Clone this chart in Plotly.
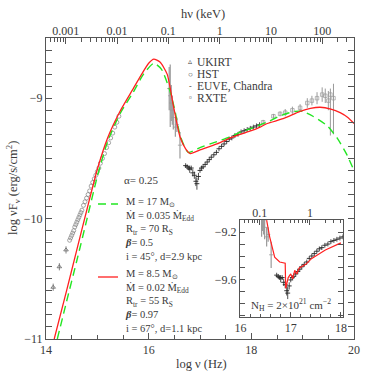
import plotly.graph_objects as go
import math

# ---------------- data ----------------
# model curves (log nu [Hz], log nuFnu)
red_x = [14.16, 14.40, 14.60, 14.80, 15.00, 15.20, 15.44, 15.70, 15.85, 16.00, 16.10, 16.22, 16.36,
         16.48, 16.61, 16.72, 16.81, 17.00, 17.33, 17.59, 17.78, 18.00, 18.17, 18.31, 18.62, 18.95,
         19.15, 19.34, 19.55, 19.73, 19.88, 20.00]
red_y = [-11.00, -10.60, -10.26, -9.92, -9.59, -9.33, -9.11, -8.92, -8.81, -8.71, -8.675, -8.70, -8.80,
         -9.06, -9.32, -9.42, -9.46, -9.43, -9.38, -9.33, -9.30, -9.27, -9.24, -9.21, -9.17, -9.11,
         -9.085, -9.075, -9.09, -9.12, -9.16, -9.21]

green_x = [14.22, 14.40, 14.60, 14.80, 15.00, 15.20, 15.44, 15.70, 15.90, 16.10, 16.25, 16.40, 16.50,
           16.62, 16.77, 17.00, 17.33, 17.59, 17.80, 18.00, 18.30, 18.60, 18.85, 19.00, 19.20, 19.48,
           19.67, 19.85, 20.00]
green_y = [-11.00, -10.69, -10.35, -10.00, -9.65, -9.36, -9.13, -8.95, -8.80, -8.71, -8.76, -8.92, -9.08,
           -9.32, -9.45, -9.41, -9.36, -9.32, -9.28, -9.25, -9.20, -9.14, -9.11, -9.11, -9.15, -9.23,
           -9.33, -9.46, -9.60]

# absorbed model in the inset
inset_red_x = [16.52, 16.58, 16.68, 16.78, 16.89, 16.90, 16.95, 17.00, 17.04, 17.08, 17.12, 17.17,
               17.30, 17.42, 17.69, 18.00]
inset_red_y = [-9.10, -9.24, -9.41, -9.45, -9.46, -9.67, -9.58, -9.55, -9.59, -9.52, -9.55, -9.50,
               -9.47, -9.42, -9.35, -9.29]

# UKIRT (triangles)
ukirt_x = [14.14, 14.26, 14.39]
ukirt_y = [-10.57, -10.40, -10.26]
ukirt_err = [0.03, 0.03, 0.03]

# HST (circles)
hst_x = [14.46, 14.48, 14.50, 14.52, 14.54, 14.56, 14.58, 14.60, 14.62, 14.64, 14.66, 14.68, 14.70,
         14.73, 14.76, 14.79, 14.82, 14.85, 14.88, 14.91, 14.94, 14.97, 15.00, 15.03, 15.06, 15.10,
         15.14, 15.18, 15.22, 15.26, 15.30, 15.34, 15.38, 15.42]
hst_y = [-10.18, -10.16, -10.14, -10.12, -10.10, -10.07, -10.05, -10.03, -10.01, -9.99, -9.97, -9.95,
         -9.93, -9.89, -9.86, -9.83, -9.80, -9.77, -9.73, -9.70, -9.67, -9.64, -9.61, -9.58, -9.54,
         -9.50, -9.46, -9.41, -9.37, -9.33, -9.29, -9.24, -9.20, -9.15]

# EUVE (gray, large error bars)
euve_x = [16.40, 16.42, 16.44, 16.46, 16.48, 16.52, 16.55, 16.61]
euve_y = [-8.92, -8.98, -9.04, -9.10, -9.16, -9.24, -9.22, -9.39]
euve_err = [0.18, 0.26, 0.15, 0.12, 0.10, 0.08, 0.06, 0.11]

# Chandra (black crosses)
chan_x = [16.72, 16.75, 16.78, 16.80, 16.83, 16.86, 16.89, 16.92, 16.94, 16.97, 17.00, 17.03, 17.06,
          17.10, 17.14, 17.18, 17.22, 17.27, 17.32, 17.37, 17.42, 17.47, 17.52, 17.57, 17.62, 17.68,
          17.74, 17.80, 17.86, 17.92, 17.98, 18.04, 18.10, 18.16]
chan_y = [-9.56, -9.57, -9.58, -9.59, -9.58, -9.62, -9.64, -9.69, -9.71, -9.65, -9.60, -9.58, -9.57,
          -9.55, -9.53, -9.51, -9.49, -9.47, -9.45, -9.42, -9.40, -9.38, -9.36, -9.34, -9.33, -9.31,
          -9.30, -9.28, -9.27, -9.26, -9.25, -9.24, -9.23, -9.22]
chan_err = [0.02, 0.02, 0.02, 0.03, 0.02, 0.03, 0.03, 0.04, 0.05, 0.03, 0.02, 0.02, 0.02,
            0.02, 0.02, 0.02, 0.02, 0.02, 0.02, 0.02, 0.02, 0.02, 0.02, 0.02, 0.02, 0.02,
            0.02, 0.02, 0.02, 0.02, 0.02, 0.02, 0.02, 0.02]

# RXTE (squares)
rxte_x = [18.23, 18.43, 18.56, 18.66, 18.80, 18.95, 19.09, 19.18, 19.28, 19.38, 19.44, 19.50, 19.54, 19.60]
rxte_y = [-9.20, -9.15, -9.13, -9.12, -9.10, -9.08, -9.04, -9.02, -9.00, -8.97, -8.98, -9.02, -8.97, -9.00]
rxte_err_up = [0.02, 0.02, 0.02, 0.03, 0.03, 0.03, 0.04, 0.04, 0.05, 0.06, 0.06, 0.08, 0.05, 0.12]
rxte_err_dn = [0.02, 0.02, 0.02, 0.03, 0.03, 0.03, 0.04, 0.04, 0.05, 0.06, 0.06, 0.08, 0.34, 0.30]

# axis ticks
x_ticks = [14, 16, 18, 20]
y_ticks = [-11, -10, -9]
y_ticktext = ["\u221211", "\u221210", "\u22129"]
kev_ticks = [0.001, 0.01, 0.1, 1, 10, 100]
kev_text = ["0.001", "0.01", "0.1", "1", "10", "100"]
inset_x_ticks = [16, 17, 18]
inset_y_ticks = [-9.6, -9.2]
inset_y_text = ["\u22129.6", "\u22129.2"]
inset_kev_ticks = [0.1, 1]

LOG_HZ_PER_KEV = math.log10(2.418e17)

def to_kev(xs):
    return [10 ** (v - LOG_HZ_PER_KEV) for v in xs]

FONT = "Liberation Serif"
TXT = "#3a3a3a"
AX = "#555555"
GRAY = "#9a9a9a"
RED = "#ff2020"
GREEN = "#22e622"

fig = go.Figure()

def add_data(xa, ya, inset=False):
    if not inset:
        fig.add_trace(go.Scatter(x=ukirt_x, y=ukirt_y, mode="markers", xaxis=xa, yaxis=ya,
                                 marker=dict(symbol="triangle-up-open", size=4, color="#666",
                                             line=dict(width=0.8)),
                                 error_y=dict(type="data", array=ukirt_err, color="#666", thickness=0.8, width=0)))
        fig.add_trace(go.Scatter(x=hst_x, y=hst_y, mode="markers", xaxis=xa, yaxis=ya,
                                 marker=dict(symbol="circle-open", size=4, color="#808080",
                                             line=dict(width=0.7))))
    fig.add_trace(go.Scatter(x=euve_x, y=euve_y, mode="markers", xaxis=xa, yaxis=ya,
                             marker=dict(symbol="line-ew-open", size=3, color=GRAY, line=dict(width=0.8)),
                             error_y=dict(type="data", array=euve_err, color=GRAY, thickness=1.2, width=0)))
    fig.add_trace(go.Scatter(x=chan_x, y=chan_y, mode="markers", xaxis=xa, yaxis=ya,
                             marker=dict(symbol="line-ew-open", size=3.5, color="#222", line=dict(width=0.9)),
                             error_y=dict(type="data", array=chan_err, color="#222", thickness=0.8, width=0)))
    if not inset:
        fig.add_trace(go.Scatter(x=rxte_x, y=rxte_y, mode="markers", xaxis=xa, yaxis=ya,
                                 marker=dict(symbol="square-open", size=3.5, color=GRAY, line=dict(width=0.7)),
                                 error_y=dict(type="data", array=rxte_err_up, arrayminus=rxte_err_dn,
                                              color=GRAY, thickness=1.0, width=0)))

add_data("x", "y")
fig.add_trace(go.Scatter(x=green_x, y=green_y, mode="lines", xaxis="x", yaxis="y",
                         line=dict(color=GREEN, width=1.4, dash="8px,5px", shape="spline", smoothing=0.6)))
# red model drawn against the keV (top) axis, same positions
fig.add_trace(go.Scatter(x=to_kev(red_x), y=red_y, mode="lines", xaxis="x2", yaxis="y",
                         line=dict(color=RED, width=1.3, shape="spline", smoothing=0.6)))

add_data("x3", "y3", inset=True)
fig.add_trace(go.Scatter(x=to_kev(inset_red_x), y=inset_red_y, mode="lines", xaxis="x4", yaxis="y3",
                         line=dict(color=RED, width=1.2)))

tickfont = dict(family=FONT, size=12, color=TXT)
common = dict(showgrid=False, zeroline=False, showline=True, linecolor=AX, linewidth=1,
              ticks="inside", tickcolor=AX, tickfont=tickfont)

kev_minor = []
for d in [0.0001, 0.001, 0.01, 0.1, 1, 10, 100]:
    for m in range(2, 10):
        kev_minor.append(d * m)

fig.update_layout(
    width=374, height=374,
    margin=dict(l=46, r=20, t=38, b=35),
    paper_bgcolor="white", plot_bgcolor="white",
    showlegend=False,
    xaxis=dict(range=[14, 20], tickvals=x_ticks, ticklen=6, mirror=True,
               minor=dict(dtick=0.5, ticklen=4, tickcolor=AX, ticks="inside"), **common),
    yaxis=dict(range=[-11, -8.5], tickvals=y_ticks, ticktext=y_ticktext, ticklen=6, mirror="allticks",
               minor=dict(dtick=0.1, ticklen=3.5, tickcolor=AX, ticks="inside"), **common),
    xaxis2=dict(overlaying="x", side="top", type="log", anchor="y",
                range=[14 - LOG_HZ_PER_KEV, 20 - LOG_HZ_PER_KEV],
                tickvals=kev_ticks, ticktext=kev_text, ticklen=6,
                minor=dict(tickvals=kev_minor, ticklen=3.5, tickcolor=AX, ticks="inside"),
                showgrid=False, zeroline=False, showline=False,
                ticks="inside", tickcolor=AX, tickfont=tickfont),
    xaxis3=dict(domain=[0.630, 0.964], anchor="y3", range=[15.99, 18.04], tickvals=inset_x_ticks,
                ticklen=5, mirror=True,
                minor=dict(dtick=0.2, ticklen=3, tickcolor=AX, ticks="inside"), **common),
    yaxis3=dict(domain=[0.073, 0.395], anchor="x3", range=[-9.91, -9.1], tickvals=inset_y_ticks,
                ticktext=inset_y_text, ticklen=5, mirror="allticks",
                minor=dict(dtick=0.1, ticklen=3, tickcolor=AX, ticks="inside"), **common),
    xaxis4=dict(overlaying="x3", side="top", type="log", anchor="y3",
                range=[15.99 - LOG_HZ_PER_KEV, 18.04 - LOG_HZ_PER_KEV],
                tickvals=inset_kev_ticks, ticktext=["0.1", "1"], ticklen=5,
                minor=dict(tickvals=kev_minor, ticklen=3, tickcolor=AX, ticks="inside"),
                showgrid=False, zeroline=False, showline=False,
                ticks="inside", tickcolor=AX, tickfont=tickfont),
)

def px2paper(px, py):
    return (px - 46) / 308.0, (339 - py) / 301.0

ann = []
def text(px, py, s, size=12, xanchor="left", angle=0, align="left"):
    x, y = px2paper(px, py)
    ann.append(dict(x=x, y=y, xref="paper", yref="paper", text=s, showarrow=False,
                    xanchor=xanchor, yanchor="middle", textangle=angle, align=align,
                    font=dict(family=FONT, size=size, color=TXT)))

# axis titles
text(203, 14, "h\u03bd (keV)", size=12.5, xanchor="center")
text(201, 364, "log \u03bd (Hz)", size=12.5, xanchor="center")
text(13, 188, "log \u03bdF<sub>\u03bd</sub> (erg/s/cm<sup>2</sup>)", size=12.5, xanchor="center", angle=-90)

# legend of data sets
legend_rows = [(62, "\u25b5", "UKIRT"), (74, "\u25cb", "HST"), (86, "-", "EUVE, Chandra"), (97.5, "\u25ab", "RXTE")]
for py, sym, name in legend_rows:
    text(190, py, sym, size=8, xanchor="center")
    text(195, py, name, size=11.5)

# model parameters
text(122, 180, "\u03b1= 0.25", size=11)
block1 = ["M = 17 M<sub>\u2299</sub>", "\u1e40 = 0.035 \u1e40<sub>Edd</sub>", "R<sub>tr</sub> = 70 R<sub>S</sub>",
          "<b><i>\u03b2</i></b>= 0.5", "i = 45\u00b0, d=2.9 kpc"]
block2 = ["M = 8.5 M<sub>\u2299</sub>", "\u1e40 = 0.02 \u1e40<sub>Edd</sub>", "R<sub>tr</sub> = 55 R<sub>S</sub>",
          "<b><i>\u03b2</i></b>= 0.97", "i = 67\u00b0, d=1.1 kpc"]
text(123, 228.5, "<br>".join(block1), size=10.5)
text(123, 301, "<br>".join(block2), size=10.5)

text(291, 305, "N<sub>H</sub> = 2\u00d710<sup>21</sup> cm<sup>\u22122</sup>", size=11, xanchor="center")

fig.update_layout(annotations=ann)

# legend line samples
x0, y0 = px2paper(98, 204)
x1, _ = px2paper(118, 204)
fig.add_shape(type="line", xref="paper", yref="paper", x0=x0, x1=x1, y0=y0, y1=y0,
              line=dict(color=GREEN, width=1.4, dash="8px,5px"))
x0, y0 = px2paper(98, 277)
fig.add_shape(type="line", xref="paper", yref="paper", x0=x0, x1=x1, y0=y0, y1=y0,
              line=dict(color=RED, width=1.3))

fig.write_html("out.html", config={"displayModeBar": False},
               post_script="document.body.style.margin='0px';")
